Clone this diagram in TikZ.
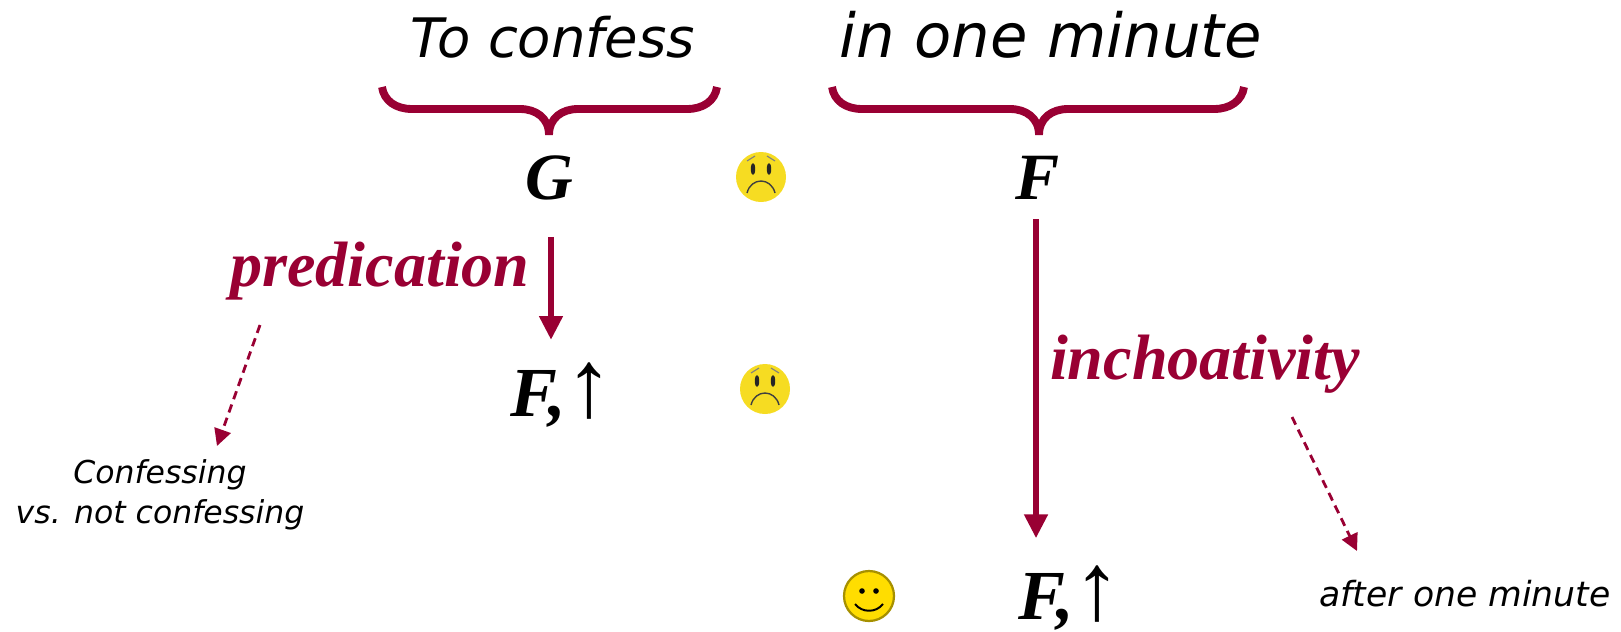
\documentclass[tikz,border=0pt]{standalone}
\usepackage{fontspec}
\setmainfont{Liberation Serif}
\newfontfamily\handfont{DejaVu Sans}
\usetikzlibrary{arrows.meta,calc,positioning}
\definecolor{FigureRed}{HTML}{990033}
\definecolor{FaceYellow}{HTML}{F6DC22}
\definecolor{SmileYellow}{HTML}{FFDD00}
\tikzset{
  letter/.style={anchor=base,inner sep=0pt,font=\fontsize{47}{50}\selectfont\bfseries\itshape},
  relation/.style={anchor=base,inner sep=0pt,text=FigureRed,font=\fontsize{45.6}{50}\selectfont\bfseries\itshape},
  hand/.style={anchor=base,inner sep=0pt,align=center,font=\fontsize{#1}{28}\selectfont\handfont\itshape},
  brace/.style={FigureRed,line width=5.6pt,line cap=butt},
  mainarrow/.style={FigureRed,line width=4.4pt,-{Triangle[length=17pt,width=16pt]}},
  dasharrow/.style={FigureRed,line width=2pt,dash pattern=on 6pt off 4pt,-{Triangle[length=12pt,width=12pt]}},
  frown/.pic={
    \fill[FaceYellow] (0,0) circle (25);
    \fill[black!85] (-8,-8) ellipse (2.2 and 6) (8,-8) ellipse (2.2 and 6);
    \draw[black!75,line width=1pt] (-14,16) .. controls (-10,0) and (10,0) .. (14,16);
    \draw[black!50,line width=.8pt] (-14,-16) -- (-6,-21) (14,-16) -- (6,-21);
  },
  smile/.pic={
    \fill[SmileYellow,draw=black!35!SmileYellow,line width=1.6pt] (0,0) circle (25);
    \fill[black] (-7,-5) circle (2.8) (7,-5) circle (2.8);
    \draw[black,line width=1.4pt] (-14,8) .. controls (-7,17) and (7,17) .. (14,8);
  },
}
\newcommand{\fup}{{\fontsize{50}{50}\selectfont F,}\raisebox{0pt}{\fontsize{68}{70}\selectfont\mdseries\upshape ↑}}

\begin{document}
\begin{tikzpicture}[x=.025cm,y=-.025cm,line join=round]
  \useasboundingbox (0,0) rectangle (1621,631);

  \node[hand=38.7] (confess) at (553,57) {To confess};
  \node[hand=43.3] (minute) at (1051,57) {in one minute};

  \draw[brace] (382,87) .. controls (384,101) and (396,109) .. (412,109)
    -- (520,109) .. controls (536,109) and (549,118) .. (549,135);
  \draw[brace] (549,135) .. controls (549,118) and (562,109) .. (578,109)
    -- (687,109) .. controls (703,109) and (715,101) .. (717,87);
  \draw[brace] (832,87) .. controls (834,101) and (846,109) .. (862,109)
    -- (1010,109) .. controls (1026,109) and (1039,118) .. (1039,135);
  \draw[brace] (1039,135) .. controls (1039,118) and (1052,109) .. (1068,109)
    -- (1214,109) .. controls (1230,109) and (1242,101) .. (1244,87);

  \node[letter] (G) at (549,199) {G};
  \node[letter] (F) at (1038,199) {F};
  \node[letter] (Fup) at (562,416) {\fup};
  \node[letter] (Fdone) at (1070,619) {\fup};

  \node[relation] (predication) at (380,286) {predication};
  \node[relation] (inchoativity) at (1205,379) {inchoativity};

  \node[hand=22.4] (notconfessing) at (160,523) {Confessing\\vs. not confessing};
  \node[hand=24.6] (oneminute) at (1465,606) {after one minute};

  \coordinate (predend) at (260,325);
  \coordinate (inchend) at (1292,417);

  \draw[mainarrow] ($(G.south)+(2,37)$) -- ($(G.south)+(2,140)$);
  \draw[mainarrow] ($(F.south)+(-2,20)$) -- ($(F.south)+(-2,339)$);
  \draw[dasharrow] (predend) -- (217,446);
  \draw[dasharrow] (inchend) -- (1357,551);

  \pic at (761,177) {frown};
  \pic at (765,389) {frown};
  \pic at (869,596) {smile};
\end{tikzpicture}
\end{document}
